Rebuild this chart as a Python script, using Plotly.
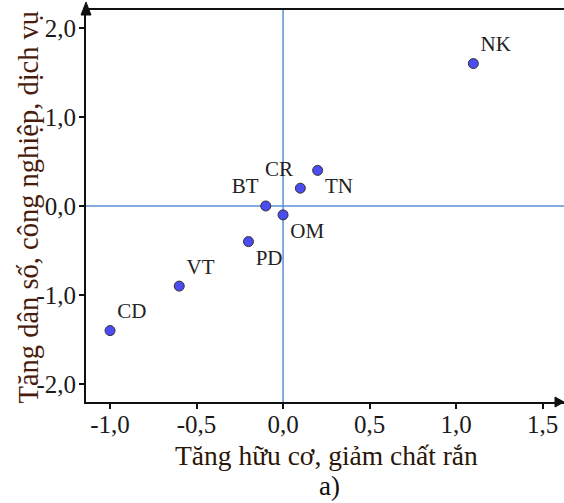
import plotly.graph_objects as go

labels = ["NK", "CR", "TN", "BT", "OM", "PD", "VT", "CD"]
x_vals = [1.1, 0.1, 0.2, -0.1, 0.0, -0.2, -0.6, -1.0]
y_vals = [1.6, 0.2, 0.4, 0.0, -0.1, -0.4, -0.9, -1.4]
label_pos = ["top right", "top left", "bottom right", "top left",
             "bottom right", "bottom right", "top right", "top right"]
x_ticks = [-1.0, -0.5, 0.0, 0.5, 1.0, 1.5]
y_ticks = [-2.0, -1.0, 0.0, 1.0, 2.0]
x_ticktext = [f"{v:.1f}".replace(".", ",") for v in x_ticks]
y_ticktext = [f"{v:.1f}".replace(".", ",") for v in y_ticks]
x_title = "Tăng hữu cơ, giảm chất rắn"
y_title = "Tăng dân số, công nghiệp, dịch vụ"
caption = "a)"

SERIF = "Liberation Serif"
W, H = 564, 503
L, R, T, B = 86, 0, 9, 101
PW = W - L - R

fig = go.Figure()
fig.add_trace(go.Scatter(
    x=x_vals, y=y_vals, mode="markers+text", text=labels,
    textposition=label_pos,
    textfont=dict(family=SERIF, size=21, color="#222222"),
    marker=dict(size=10, color="#4b4cf2", line=dict(color="#333333", width=1)),
    showlegend=False, cliponaxis=False, hoverinfo="skip",
))

# reference lines at 0
fig.add_shape(type="line", xref="x", yref="paper", x0=0, x1=0, y0=0, y1=1,
              line=dict(color="#5b8fd6", width=1.5), layer="below")
fig.add_shape(type="line", xref="paper", yref="y", x0=0, x1=1, y0=0, y1=0,
              line=dict(color="#5b8fd6", width=1.5), layer="below")
# top border line
fig.add_shape(type="line", xref="paper", yref="paper", x0=0, x1=1, y0=1, y1=1,
              line=dict(color="#111111", width=2))
# y axis arrow
fig.add_shape(type="path", xref="paper", yref="paper", xsizemode="pixel", ysizemode="pixel",
              xanchor=0, yanchor=1, path="M-5,-6 L5,-6 L0,7 Z",
              fillcolor="#111111", line=dict(color="#111111", width=1))
# x axis arrow
fig.add_shape(type="path", xref="paper", yref="paper", xsizemode="pixel", ysizemode="pixel",
              xanchor=1, yanchor=0, path="M-9,5 L-9,-5 L0,0 Z",
              fillcolor="#111111", line=dict(color="#111111", width=1))

# axis titles and caption
fig.add_annotation(text=x_title, xref="paper", yref="paper", x=(326.5 - L) / PW, y=0,
                   xanchor="center", yanchor="middle", yshift=-53, showarrow=False,
                   font=dict(family=SERIF, size=27.5, color="#2b1608"))
fig.add_annotation(text=y_title, xref="paper", yref="paper", x=0, y=0.5, textangle=-90,
                   xanchor="center", yanchor="middle", xshift=-58, yshift=-2, showarrow=False,
                   font=dict(family=SERIF, size=28.5, color="#4a1c0c"))
fig.add_annotation(text=caption, xref="paper", yref="paper", x=(329 - L) / PW, y=0,
                   xanchor="center", yanchor="middle", yshift=-84, showarrow=False,
                   font=dict(family=SERIF, size=27, color="#111111"))

fig.update_layout(
    width=W, height=H,
    margin=dict(l=L, r=R, t=T, b=B),
    paper_bgcolor="white", plot_bgcolor="white",
    font=dict(family=SERIF, size=25, color="#1a1a1a"),
    hovermode=False,
    xaxis=dict(range=[-1.139, 1.624], tickvals=x_ticks, ticktext=x_ticktext, automargin=False,
               showgrid=False, zeroline=False, showline=True, linecolor="#111111",
               linewidth=2, ticks="outside", ticklen=5, tickwidth=2, tickcolor="#111111",
               ticklabelstandoff=-6,
               tickfont=dict(family=SERIF, size=25, color="#1a1a1a")),
    yaxis=dict(range=[-2.202, 2.213], tickvals=y_ticks, ticktext=y_ticktext, automargin=False,
               showgrid=False, zeroline=False, showline=True, linecolor="#111111",
               linewidth=2, ticks="outside", ticklen=5, tickwidth=2, tickcolor="#111111",
               ticklabelstandoff=-2,
               tickfont=dict(family=SERIF, size=25, color="#1a1a1a")),
)

fig.write_html("out.html", config={"displayModeBar": False},
               post_script="document.body.style.margin='0';document.body.style.padding='0';")
